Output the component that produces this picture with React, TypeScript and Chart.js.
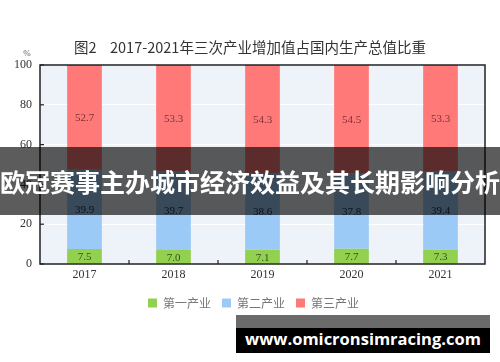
import React, { useEffect, useRef } from "react";
import { Chart, registerables } from "chart.js";

Chart.register(...registerables);

const years = ["2017", "2018", "2019", "2020", "2021"];
const primary = [7.5, 7.0, 7.1, 7.7, 7.3];
const secondary = [39.9, 39.7, 38.6, 37.8, 39.4];
const tertiary = [52.7, 53.3, 54.3, 54.5, 53.3];
const seriesNames = ["第一产业", "第二产业", "第三产业"];
const yTicks = [0, 20, 40, 60, 80, 100];
const titleFigure = "图2";
const chartTitle = "2017-2021年三次产业增加值占国内生产总值比重";
const bannerText = "欧冠赛事主办城市经济效益及其长期影响分析";
const watermark = "www.omicronsimracing.com";

const colors = ["#92d050", "#9ccaf7", "#ff7979"];
const labelColors = ["#3b4a22", "#23344a", "#7a3434"];

const decor = {
  id: "decor",
  afterLayout(chart: any) {
    if (chart.legend) {
      chart.legend.left += 11;
      chart.legend.right += 11;
    }
  },
  beforeDraw(chart: any) {
    const { ctx, chartArea: a } = chart;
    ctx.save();
    ctx.fillStyle = "#edf3f8";
    ctx.fillRect(a.left, a.top, a.right - a.left, a.bottom - a.top);
    ctx.restore();
  },
  afterDatasetsDraw(chart: any) {
    const { ctx, chartArea: a, scales } = chart;
    ctx.save();
    ctx.strokeStyle = "#222";
    ctx.lineWidth = 1.5;
    ctx.strokeRect(a.left, a.top, a.right - a.left, a.bottom - a.top);
    ctx.lineWidth = 1.2;
    yTicks.forEach((v) => {
      const y = scales.y.getPixelForValue(v);
      ctx.beginPath();
      ctx.moveTo(a.left, y);
      ctx.lineTo(a.left + 4, y);
      ctx.stroke();
    });
    for (let i = 0; i < years.length - 1; i++) {
      const x = (scales.x.getPixelForValue(i) + scales.x.getPixelForValue(i + 1)) / 2;
      ctx.beginPath();
      ctx.moveTo(x, a.bottom);
      ctx.lineTo(x, a.bottom - 4);
      ctx.stroke();
    }
    ctx.font = "11px 'Liberation Serif', serif";
    ctx.textAlign = "center";
    ctx.textBaseline = "middle";
    chart.data.datasets.forEach((ds: any, di: number) => {
      const meta = chart.getDatasetMeta(di);
      ctx.fillStyle = labelColors[di];
      meta.data.forEach((el: any, i: number) => {
        const v = ds.data[i] as number;
        ctx.fillText(v.toFixed(1), el.x, (el.y + el.base) / 2 + 1);
      });
    });
    ctx.restore();
  },
  afterDraw(chart: any) {
    const { ctx } = chart;
    ctx.save();
    ctx.fillStyle = "#333";
    ctx.font = "14.5px 'Noto Sans CJK SC', sans-serif";
    ctx.textAlign = "left";
    ctx.textBaseline = "middle";
    ctx.fillText(titleFigure, 74, 47);
    ctx.fillText(chartTitle, 110, 47);
    ctx.textAlign = "center";
    ctx.fillStyle = "#555";
    ctx.font = "9px 'Liberation Serif', serif";
    ctx.fillText("%", 27, 54);
    ctx.restore();
  },
};

export default function App() {
  const ref = useRef<HTMLCanvasElement>(null);
  useEffect(() => {
    const chart = new Chart(ref.current!, {
      type: "bar",
      data: {
        labels: years,
        datasets: [primary, secondary, tertiary].map((d, i) => ({
          label: seriesNames[i],
          data: d,
          backgroundColor: colors[i],
          borderWidth: 0,
          barPercentage: 0.39,
          categoryPercentage: 1,
        })),
      },
      options: {
        animation: false,
        responsive: false,
        maintainAspectRatio: false,
        layout: { padding: { top: 65, right: 15, left: 0, bottom: 43 } },
        plugins: {
          title: { display: false },
          tooltip: { enabled: false },
          legend: {
            position: "bottom",
            labels: {
              boxWidth: 9,
              boxHeight: 9,
              padding: 11,
              color: "#777",
              font: { family: "'Noto Sans CJK SC', sans-serif", size: 12 },
            },
          },
        },
        scales: {
          x: {
            stacked: true,
            grid: { display: false, drawTicks: false },
            border: { display: false },
            ticks: {
              padding: 4,
              color: "#333",
              font: { family: "'Liberation Serif', serif", size: 12 },
            },
            afterFit: (s: any) => {
              s.height = 22;
            },
          },
          y: {
            stacked: true,
            min: 0,
            max: 100,
            ticks: {
              stepSize: 20,
              padding: 8,
              color: "#333",
              font: { family: "'Liberation Serif', serif", size: 12 },
            },
            grid: { color: "#ffffff", lineWidth: 1, drawTicks: false },
            border: { display: false },
            afterFit: (s: any) => {
              s.width = 40;
            },
          },
        },
      },
      plugins: [decor],
    });
    return () => chart.destroy();
  }, []);

  return (
    <div style={{ position: "absolute", left: 0, top: 0, width: 500, height: 362, background: "#fff", overflow: "hidden" }}>
      <canvas ref={ref} width={500} height={362} style={{ display: "block" }} />
      <div
        style={{
          position: "absolute",
          left: 0,
          top: 147,
          width: 500,
          height: 68,
          background: "rgba(0,0,0,0.64)",
          color: "#fff",
          fontFamily: "'Noto Sans CJK SC', sans-serif",
          fontWeight: 700,
          fontSize: 25,
          lineHeight: "68px",
          textAlign: "center",
          whiteSpace: "nowrap",
        }}
      >
        {bannerText}
      </div>
      <div style={{ position: "absolute", left: 236, top: 315, width: 254, height: 13, background: "#6b6b6b" }} />
      <div
        style={{
          position: "absolute",
          left: 236,
          top: 328,
          width: 254,
          height: 25,
          background: "#000",
          color: "#fff",
          fontFamily: "'Open Sans', sans-serif",
          fontWeight: 700,
          fontSize: 16.5,
          lineHeight: "22px",
          textAlign: "center",
          whiteSpace: "nowrap",
        }}
      >
        {watermark}
      </div>
    </div>
  );
}
